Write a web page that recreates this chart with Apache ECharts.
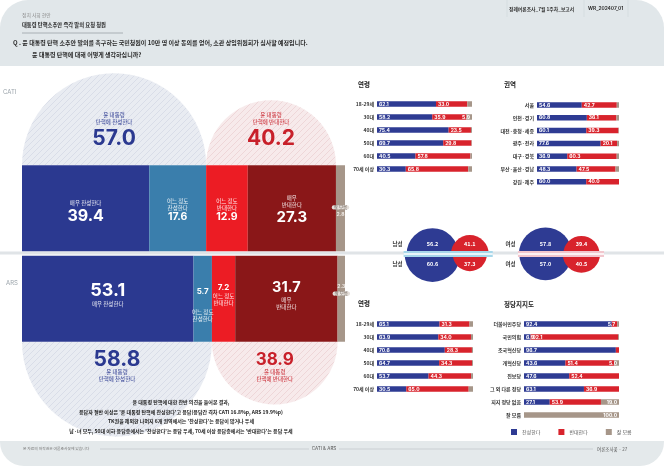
<!DOCTYPE html>
<html><head><meta charset="utf-8">
<script src="https://cdn.jsdelivr.net/npm/echarts@6/dist/echarts.min.js"></script>
<style>html,body{margin:0;padding:0;background:#fff}#c{width:664px;height:466px}</style>
</head><body><div id="c"></div>
<script>
// ---------------- DATA ----------------
const mainRows = ['CATI', 'ARS'];
const strongFor = [39.4, 53.1];
const someFor = [17.6, 5.7];
const someAgainst = [12.9, 7.2];
const strongAgainst = [27.3, 31.7];
const dontKnow = [2.8, 2.3];
const totalFor = [57.0, 58.8];
const totalAgainst = [40.2, 38.9];

const ageCats = ['18-29세', '30대', '40대', '50대', '60대', '70세 이상'];
const ageCatiFor = [62.1, 58.2, 75.4, 69.7, 40.5, 30.3];
const ageCatiAgainst = [33.0, 35.9, 23.5, 29.8, 57.8, 65.8];
const ageCatiDk = [4.9, 5.9, 1.1, 0.5, 1.7, 3.9];

const regionCats = ['서울', '인천·경기', '대전·충청·세종', '광주·전라', '대구·경북', '부산·울산·경남', '강원·제주'];
const regionFor = [54.6, 60.8, 60.1, 77.6, 36.9, 48.3, 60.0];
const regionAgainst = [42.7, 36.1, 39.3, 20.1, 60.3, 47.5, 40.0];
const regionDk = [2.7, 3.1, 0.6, 2.3, 2.8, 4.2, 0.0];

const ageArsFor = [65.1, 63.9, 70.6, 64.7, 53.7, 30.5];
const ageArsAgainst = [31.3, 34.0, 28.3, 34.3, 44.3, 65.0];
const ageArsDk = [3.6, 2.1, 1.1, 1.0, 2.0, 4.5];

const partyCats = ['더불어민주당', '국민의힘', '조국혁신당', '개혁신당', '진보당', '그 외 다른 정당', '지지 정당 없음', '잘 모름'];
const partyFor = [92.4, 6.9, 96.7, 43.6, 47.6, 63.1, 27.1, 0.0];
const partyAgainst = [5.7, 92.1, 3.3, 51.4, 52.4, 36.9, 53.9, 0.0];
const partyDk = [1.9, 1.0, 0.0, 5.0, 0.0, 0.0, 19.0, 100.0];

const genderCats = ['남성', '여성'];
const genderCatiFor = [56.2, 57.8];
const genderCatiAgainst = [41.1, 39.4];
const genderArsFor = [60.6, 57.0];
const genderArsAgainst = [37.3, 40.5];

// ---------------- STYLE ----------------
const KR = "'Noto Sans CJK KR', sans-serif";
const NUM = "Inter, 'Noto Sans CJK KR', sans-serif";
const mainColors = ['#2b3990', '#3a7eac', '#ec1c24', '#8a1718', '#a69689'];
const BLUE = '#2e3b93', RED = '#d8232c', GRAY = '#a69689';

function hatch(base, line) {
  const c = document.createElement('canvas'); c.width = 6; c.height = 6;
  const x = c.getContext('2d'); x.fillStyle = base; x.fillRect(0, 0, 6, 6);
  x.strokeStyle = line; x.lineWidth = 1;
  x.beginPath();
  x.moveTo(0, 6); x.lineTo(6, 0);
  x.moveTo(-3, 3); x.lineTo(3, -3);
  x.moveTo(3, 9); x.lineTo(9, 3);
  x.stroke();
  return { image: c, repeat: 'repeat' };
}
const hatchBlue = hatch('#e9ecf2', '#d9dde8');
const hatchRed = hatch('#f7eaeb', '#eed6d8');

// main bar labels
const nameLines = [['매우 찬성한다'], ['어느 정도', '찬성한다'], ['어느 정도', '반대한다'], ['매우', '반대한다'], ['잘 모름']];
const valSize = [[16, 18], [10.5, 8], [10.5, 8], [15, 14.5], [5, 5]];
const valOff = [[4, -5], [2, 6], [2, -4], [2, -4], [2, -8]];
function mainLabel(si, ri, val) {
  const isDk = si === 4;
  const nm = nameLines[si].map(l => (isDk ? '{b|' : '{n|') + l + '}').join('\n');
  const vs = '{v|' + val.toFixed(1) + '}';
  let fmt;
  if (ri === 0) fmt = nm + '\n' + vs;
  else fmt = vs + '\n' + (si === 1 ? '{g| }\n' : '') + nm;
  const size = valSize[si][ri];
  return {
    show: true, position: 'inside', offset: [0, valOff[si][ri]], formatter: fmt,
    rich: {
      n: { fontSize: 5.5, lineHeight: 7, color: 'rgba(255,255,255,0.9)', fontFamily: KR, align: 'center' },
      b: { fontSize: 4.5, lineHeight: 8, color: '#6e6259', backgroundColor: '#e4ded9', borderRadius: 2, padding: [0, 2], fontFamily: KR, align: 'center' },
      g: { fontSize: 5, lineHeight: 12 },
      v: { fontSize: size, lineHeight: size * 1.15, fontWeight: 'bold', color: isDk ? '#f1ece8' : '#fff', fontFamily: NUM, align: 'center' }
    }
  };
}
const mainArrays = [strongFor, someFor, someAgainst, strongAgainst, dontKnow];
const mainSeries = mainArrays.map((arr, si) => ({
  type: 'bar', name: '전체_' + si, stack: 'main', xAxisIndex: 0, yAxisIndex: 0,
  barWidth: '95%', z: 3,
  itemStyle: { color: mainColors[si] },
  data: arr.map((v, ri) => ({ value: v, label: mainLabel(si, ri, v) }))
}));

// semicircles (totals)
const semiData = [
  [0, totalFor[0], 0, -1, totalFor[0], 0],
  [totalFor[0], totalFor[0] + totalAgainst[0], 0, -1, totalAgainst[0], 1],
  [0, totalFor[1], 1, 1, totalFor[1], 0],
  [totalFor[1], totalFor[1] + totalAgainst[1], 1, 1, totalAgainst[1], 1]
];
const semiText = ['윤 대통령', ['탄핵에 찬성한다', '탄핵에 반대한다']];
const semiSeries = {
  type: 'custom', xAxisIndex: 0, yAxisIndex: 0, clip: false, z: 1,
  data: semiData,
  renderItem: function (params, api) {
    const s = api.value(0), e = api.value(1), row = api.value(2), dir = api.value(3), val = api.value(4), kind = api.value(5);
    const p0 = api.coord([s, row]), p1 = api.coord([e, row]);
    const band = api.size([0, 1])[1];
    const half = band * 0.95 / 2;
    const cx = (p0[0] + p1[0]) / 2, r = (p1[0] - p0[0]) / 2;
    const cy = p0[1] + dir * half;
    const col = kind === 0 ? '#2b3990' : '#c8202a';
    const fill = kind === 0 ? hatchBlue : hatchRed;
    const sa = dir < 0 ? Math.PI : 0, ea = dir < 0 ? Math.PI * 2 : Math.PI;
    const t = (txt, y, size, bold, font) => ({
      type: 'text', x: cx, y: y,
      style: { text: txt, fill: col, fontSize: size, fontWeight: bold ? 'bold' : 'normal', fontFamily: font, align: 'center', verticalAlign: 'middle' }
    });
    const kids = [{ type: 'sector', shape: { cx: cx, cy: cy, r0: 0, r: r, startAngle: sa, endAngle: ea, clockwise: true }, style: { fill: fill } }];
    const vSize = row === 0 ? 21 : (kind === 0 ? 21 : 17);
    if (dir < 0) {
      kids.push(t(semiText[0], cy - 50, 5.5, false, KR));
      kids.push(t(semiText[1][kind], cy - 43, 5.5, false, KR));
      kids.push(t(val.toFixed(1), cy - 27, vSize, true, NUM));
    } else {
      kids.push(t(val.toFixed(1), cy + 18, vSize, true, NUM));
      kids.push(t(semiText[0], cy + 30, 5.5, false, KR));
      kids.push(t(semiText[1][kind], cy + 37, 5.5, false, KR));
    }
    return { type: 'group', children: kids };
  }
};

// right panels
function panel(gi, fors, agas, dks) {
  const lbl = { fontSize: 5, fontWeight: 'bold', color: '#fff', fontFamily: NUM, distance: 2, formatter: p => p.value.toFixed(1) };
  const common = { type: 'bar', stack: 'p' + gi, xAxisIndex: gi, yAxisIndex: gi, barWidth: 5.5 };
  return [
    Object.assign({}, common, { name: '찬성한다', itemStyle: { color: BLUE },
      label: Object.assign({}, lbl, { position: 'insideLeft' }),
      data: fors.map(v => ({ value: v, label: { show: v >= 5 } })) }),
    Object.assign({}, common, { name: '반대한다', itemStyle: { color: RED },
      label: Object.assign({}, lbl),
      data: agas.map(v => ({ value: v, label: { show: v >= 5, position: v < 10 ? 'insideRight' : 'insideLeft' } })) }),
    Object.assign({}, common, { name: '잘 모름', itemStyle: { color: GRAY },
      label: Object.assign({}, lbl, { position: 'insideRight' }),
      data: dks.map(v => ({ value: v, label: { show: v >= 5 } })) })
  ];
}

// gender circles
const genderSeries = {
  type: 'custom', xAxisIndex: 5, yAxisIndex: 5, clip: false, z: 3,
  data: genderCats.map((g, i) => [i, genderCatiFor[i], genderCatiAgainst[i], genderArsFor[i], genderArsAgainst[i]]),
  renderItem: function (params, api) {
    const gi = api.value(0);
    const c = api.coord([gi, 0]);
    const sz = v => api.size([0, v])[1];
    const rBT = sz(api.value(1)), rRT = sz(api.value(2)), rBB = sz(api.value(3)), rRB = sz(api.value(4));
    const bx = c[0], cy = c[1];
    const rBmax = Math.max(rBT, rBB), rRmax = Math.max(rRT, rRB);
    const rx = bx + rBmax + rRmax * 0.5;
    const bandCol = gi === 0 ? '#a7d7ea' : '#f1c6cd';
    const sec = (x, r, up, col) => ({ type: 'sector', shape: { cx: x, cy: cy, r0: 0, r: r, startAngle: up ? Math.PI : 0, endAngle: up ? Math.PI * 2 : Math.PI, clockwise: true }, style: { fill: col } });
    const txt = (s, x, y, col, size) => ({ type: 'text', x: x, y: y, style: { text: s, fill: col, fontSize: size, fontWeight: 'bold', fontFamily: KR, align: 'center', verticalAlign: 'middle' } });
    const x0 = bx - rBmax - 1, x1 = rx + rRmax + 4;
    return {
      type: 'group', children: [
        sec(bx, rBT, true, BLUE), sec(bx, rBB, false, BLUE),
        sec(rx, rRT, true, RED), sec(rx, rRB, false, RED),
        { type: 'rect', shape: { x: x0, y: cy - 3, width: x1 - x0, height: 6 }, style: { fill: bandCol } },
        { type: 'rect', shape: { x: x0, y: cy - 0.75, width: x1 - x0, height: 1.5 }, style: { fill: '#ffffff' } },
        txt(api.value(1).toFixed(1), bx, cy - 10, '#fff', 5.5),
        txt(api.value(3).toFixed(1), bx, cy + 10, '#fff', 5.5),
        txt(api.value(2).toFixed(1), rx, cy - 10, '#fff', 5.5),
        txt(api.value(4).toFixed(1), rx, cy + 10, '#fff', 5.5),
        txt(genderCats[gi], bx - 35, cy - 10, '#333', 5.5),
        txt(genderCats[gi], bx - 35, cy + 10, '#333', 5.5)
      ]
    };
  }
};

const hiddenVal = (gi) => ({ type: 'value', gridIndex: gi, min: 0, max: 100, show: false });
const catAxis = (gi, cats) => ({
  type: 'category', gridIndex: gi, data: cats, inverse: true,
  axisLine: { show: false }, axisTick: { show: false }, splitLine: { show: false },
  axisLabel: { fontSize: 5, color: '#333', margin: 3, fontFamily: KR, fontWeight: 'bold' }
});

const T = (txt, x, y, size, opts) => Object.assign({
  type: 'text', x: x, y: y, z: 10,
  style: Object.assign({ text: txt, fill: '#222', fontSize: size, fontFamily: KR, align: 'left', verticalAlign: 'middle' }, opts || {})
});

const option = {
  animation: false,
  backgroundColor: '#ffffff',
  legend: {
    data: ['찬성한다', '반대한다', '잘 모름'], left: 511, top: 429, icon: 'rect',
    itemWidth: 6, itemHeight: 6, itemGap: 18, padding: 0,
    textStyle: { fontSize: 5, color: '#555', fontFamily: KR }, selectedMode: false
  },
  grid: [
    { left: 22, width: 323, top: 163, height: 181 },
    { left: 377, width: 95, top: 97.5, height: 78 },
    { left: 537, width: 82, top: 98.6, height: 89.6 },
    { left: 377, width: 96, top: 317.5, height: 78 },
    { left: 524, width: 95, top: 317.5, height: 104 },
    { left: 376, width: 226, top: 208, height: 92 }
  ],
  xAxis: [hiddenVal(0), hiddenVal(1), hiddenVal(2), hiddenVal(3), hiddenVal(4),
    { type: 'category', gridIndex: 5, data: genderCats, show: false }],
  yAxis: [
    { type: 'category', gridIndex: 0, data: mainRows, inverse: true, show: false },
    catAxis(1, ageCats), catAxis(2, regionCats), catAxis(3, ageCats), catAxis(4, partyCats),
    { type: 'value', gridIndex: 5, min: -100, max: 100, show: false }
  ],
  graphic: [
    { type: 'rect', z: -10, shape: { x: 0, y: 0, width: 664, height: 66, r: [28, 28, 0, 0] }, style: { fill: '#e1e7ea' } },
    { type: 'rect', z: -10, shape: { x: 0, y: 441, width: 664, height: 25, r: [0, 0, 24, 24] }, style: { fill: '#e4e9eb' } },
    { type: 'line', z: -5, shape: { x1: 0, y1: 253, x2: 664, y2: 253 }, style: { stroke: '#e0e4e7', lineWidth: 3 } },
    // header
    { type: 'line', z: 5, shape: { x1: 507, y1: 0, x2: 507, y2: 17 }, style: { stroke: '#cfd6da', lineWidth: 0.6 } },
    { type: 'line', z: 5, shape: { x1: 584, y1: 0, x2: 584, y2: 17 }, style: { stroke: '#cfd6da', lineWidth: 0.6 } },
    { type: 'line', z: 5, shape: { x1: 628, y1: 0, x2: 628, y2: 17 }, style: { stroke: '#cfd6da', lineWidth: 0.6 } },
    T('정례여론조사_7월 1주차_보고서', 509, 9, 4.8, { fontWeight: 'bold', fill: '#333' }),
    T('WR_202407_01', 588, 9, 4.8, { fontWeight: 'bold', fill: '#333', fontFamily: NUM }),
    T('정치 사회 현안', 22, 15, 4.8, { fill: '#888' }),
    T('대통령 탄핵소추안 즉각 발의 요청 청원', 22, 25, 5.3, { fontWeight: 'bold', fill: '#222' }),
    { type: 'line', z: 5, shape: { x1: 22, y1: 33, x2: 123, y2: 33 }, style: { stroke: '#9aa2a7', lineWidth: 0.8 } },
    T('Q . 윤 대통령 탄핵 소추안 발의를 촉구하는 국민청원이 10만 명 이상 동의를 얻어, 소관 상임위원회가 심사할 예정입니다.', 13, 43, 6, { fontWeight: 'bold', fill: '#2a2a2a' }),
    T('윤 대통령 탄핵에 대해 어떻게 생각하십니까?', 32, 55, 6, { fontWeight: 'bold', fill: '#2a2a2a' }),
    // side labels
    T('CATI', 3, 92, 6, { fill: '#9aa3aa', fontFamily: NUM }),
    T('ARS', 6, 283, 6, { fill: '#9aa3aa', fontFamily: NUM }),
    // panel titles
    T('연령', 358, 85, 6.5, { fontWeight: 'bold' }),
    T('권역', 504, 85, 6.5, { fontWeight: 'bold' }),
    T('연령', 358, 304, 6.5, { fontWeight: 'bold' }),
    T('정당지지도', 504, 305, 6.5, { fontWeight: 'bold' }),
    // summary
    T('윤 대통령 탄핵에 대한 찬반 의견을 들어본 결과,', 181, 402, 5, { align: 'center', fontWeight: 'bold' }),
    T("응답자 절반 이상은 '윤 대통령 탄핵에 찬성한다'고 응답(응답간 격차 CATI 16.8%p, ARS 19.9%p)", 181, 412, 5, { align: 'center', fontWeight: 'bold' }),
    T("TK권을 제외한 나머지 6개 권역에서는 '찬성한다'는 응답이 많거나 우세", 181, 421, 5, { align: 'center', fontWeight: 'bold' }),
    T("남·녀 모두, 50대 이하 응답층에서는 '찬성한다'는 응답 우세, 70세 이상 응답층에서는 '반대한다'는 응답 우세", 181, 431, 5, { align: 'center', fontWeight: 'bold' }),
    // footer
    T('본 자료의 저작권은 여론조사꽃에 있습니다', 23, 449, 3.8, { fill: '#777' }),
    { type: 'line', z: 5, shape: { x1: 100, y1: 449, x2: 309, y2: 449 }, style: { stroke: '#b9bfc3', lineWidth: 0.6 } },
    T('CATI & ARS', 324, 449, 4.5, { align: 'center', fill: '#555', fontFamily: NUM }),
    { type: 'line', z: 5, shape: { x1: 339, y1: 449, x2: 593, y2: 449 }, style: { stroke: '#b9bfc3', lineWidth: 0.6 } },
    T('여론조사꽃 · 27', 597, 449, 4.5, { fill: '#555' })
  ],
  series: [semiSeries].concat(mainSeries,
    panel(1, ageCatiFor, ageCatiAgainst, ageCatiDk),
    panel(2, regionFor, regionAgainst, regionDk),
    panel(3, ageArsFor, ageArsAgainst, ageArsDk),
    panel(4, partyFor, partyAgainst, partyDk),
    [genderSeries])
};
const chart = echarts.init(document.getElementById('c'), null, { renderer: 'canvas' });
chart.setOption(option);
</script>
</body></html>
